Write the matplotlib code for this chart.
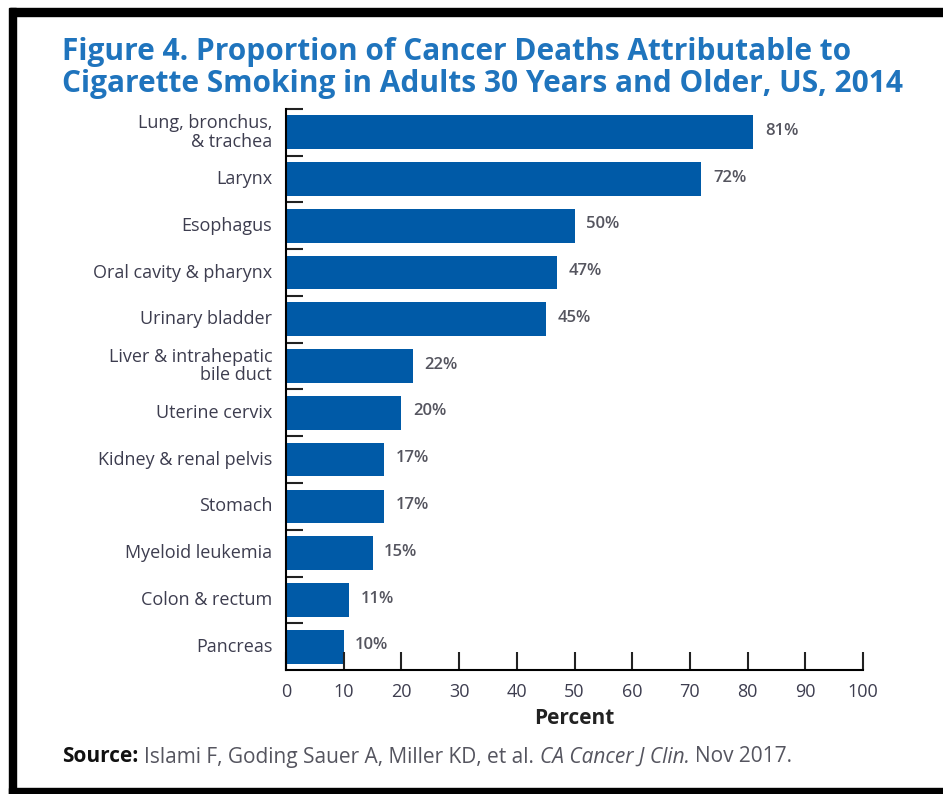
import matplotlib.pyplot as plt
from matplotlib.patches import Rectangle

plt.rcParams['font.family'] = ['Open Sans', 'DejaVu Sans']

categories = ['Lung, bronchus,\n& trachea', 'Larynx', 'Esophagus', 'Oral cavity & pharynx',
              'Urinary bladder', 'Liver & intrahepatic\nbile duct', 'Uterine cervix',
              'Kidney & renal pelvis', 'Stomach', 'Myeloid leukemia', 'Colon & rectum', 'Pancreas']
values = [81, 72, 50, 47, 45, 22, 20, 17, 17, 15, 11, 10]
x_ticks = list(range(0, 101, 10))

BAR = '#005aa7'
TITLE = '#1f74bd'
TXT = '#3d3d4f'


def draw():
    fig = plt.figure(figsize=(9.43, 7.94), dpi=100)
    ax = fig.add_axes([0.3033, 0.156, 0.6119, 0.707])

    pos = list(range(len(values)))
    ax.barh(pos, values, height=0.72, color=BAR, edgecolor='none')
    for p, v in zip(pos, values):
        ax.text(v + 2, p - 0.03, '%d%%' % v, va='center', ha='left', fontsize=12,
                color='#55555f', fontweight='semibold')

    ax.set_ylim(len(values) - 0.5, -0.5)
    ax.set_xlim(0, 100)

    # ticks on the y axis sit between bars
    ax.set_yticks([p - 0.5 for p in pos], [''] * len(pos))
    ax.tick_params(axis='y', direction='in', length=12, width=1.5, color='#222222')
    for p, lab in zip(pos, categories):
        ax.text(-2.4, p, lab, ha='right', va='center', fontsize=13, color=TXT,
                linespacing=1.05)

    ax.set_xticks(x_ticks)
    ax.tick_params(axis='x', direction='in', length=13, width=1.5, color='#222222',
                   labelsize=13, labelcolor=TXT, pad=9)
    ax.set_xlabel('Percent', fontsize=15, fontweight='bold', color='#222222', labelpad=5)

    gca = plt.gca()
    gca.spines['right'].set_color('none')
    gca.spines['top'].set_color('none')
    gca.spines['left'].set_linewidth(1.5)
    gca.spines['bottom'].set_linewidth(1.5)

    # title and source
    fig.text(62 / 943, 1 - 68 / 794,
             'Figure 4. Proportion of Cancer Deaths Attributable to\n'
             'Cigarette Smoking in Adults 30 Years and Older, US, 2014',
             ha='left', va='center', fontsize=21.5, fontweight='bold', color=TITLE,
             linespacing=1.05)
    y_src = 1 - 757 / 794
    fs = 15
    t = fig.text(62 / 943, y_src, 'Source:', ha='left', va='center', fontsize=fs,
                 fontweight='bold', color='#111111')
    fig.canvas.draw()
    x1 = t.get_window_extent().x1 / fig.bbox.width + 0.006
    t2 = fig.text(x1, y_src, 'Islami F, Goding Sauer A, Miller KD, et al.', ha='left',
                  va='center', fontsize=fs, color='#55555f')
    fig.canvas.draw()
    x2 = t2.get_window_extent().x1 / fig.bbox.width + 0.006
    t3 = fig.text(x2, y_src, 'CA Cancer J Clin.', ha='left', va='center', fontsize=fs,
                  style='italic', color='#55555f')
    fig.canvas.draw()
    x3 = t3.get_window_extent().x1 / fig.bbox.width + 0.006
    fig.text(x3, y_src, 'Nov 2017.', ha='left', va='center', fontsize=fs, color='#55555f')

    # black frame
    fig.patches.append(Rectangle((10 / 943, 1 - 16 / 794), 1, 8 / 794, color='black',
                                 transform=fig.transFigure, zorder=10))
    fig.patches.append(Rectangle((9 / 943, 0), 7 / 943, 1 - 8 / 794, color='black',
                                 transform=fig.transFigure, zorder=10))
    fig.patches.append(Rectangle((9 / 943, 0), 1, 6 / 794, color='black',
                                 transform=fig.transFigure, zorder=10))

    fig.savefig('out.png', dpi=100)


if __name__ == '__main__':
    draw()
